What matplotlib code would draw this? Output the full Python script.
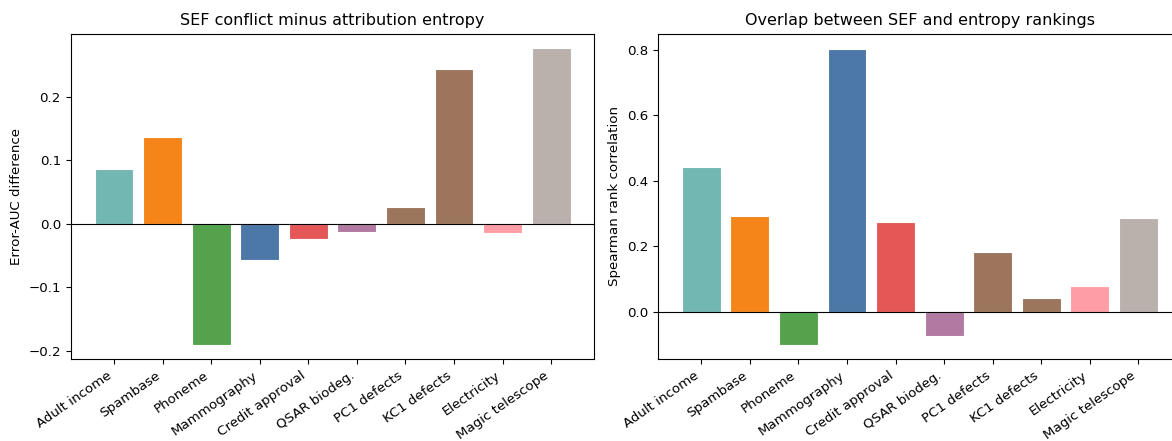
import matplotlib
matplotlib.use("Agg")
import matplotlib.pyplot as plt

# datasets and their colours
datasets = ["Adult income", "Spambase", "Phoneme", "Mammography", "Credit approval",
            "QSAR biodeg.", "PC1 defects", "KC1 defects", "Electricity", "Magic telescope"]
colors = ["#72b7b2", "#f58518", "#54a24b", "#4c78a8", "#e45756",
          "#b279a2", "#9d755d", "#9d755d", "#ff9da6", "#bab0ac"]

# left panel: SEF conflict minus attribution entropy (error-AUC)
auc_diff = [0.0868, 0.137, -0.190, -0.0568, -0.0237, -0.012, 0.0263, 0.244, -0.0142, 0.2765]

# right panel: spearman rank correlation
spearman = [0.4416, 0.2936, -0.0997, 0.804, 0.273, -0.0734, 0.1826, 0.041, 0.0795, 0.2856]

# original was rendered a touch smaller than default sizes
plt.rcParams["font.size"] = 9.6
plt.rcParams["axes.titlesize"] = 11.5

fig = plt.figure(figsize=(11.72, 4.41), dpi=100)
W, H = 1172, 441

# axes placed in pixels so the right one runs off the edge like the original
ax1 = fig.add_axes([70.7 / W, (H - 359.3) / H, 523.6 / W, 325.6 / H])
ax2 = fig.add_axes([658 / W, (H - 359.3) / H, 523.6 / W, 325.6 / H])

x = range(len(datasets))

ax1.bar(x, auc_diff, color=colors, edgecolor="white", linewidth=0.8)
ax1.axhline(0, color="black", linewidth=0.8)
ax1.set_title("SEF conflict minus attribution entropy")
ax1.set_ylabel("Error-AUC difference")

ax2.bar(x, spearman, color=colors, edgecolor="white", linewidth=0.8)
ax2.axhline(0, color="black", linewidth=0.8)
ax2.set_title("Overlap between SEF and entropy rankings")
ax2.set_ylabel("Spearman rank correlation")

for ax in (ax1, ax2):
    ax.set_xticks(list(x))
    ax.set_xticklabels(datasets, rotation=35, ha="right")

fig.savefig("out.png", dpi=100)
